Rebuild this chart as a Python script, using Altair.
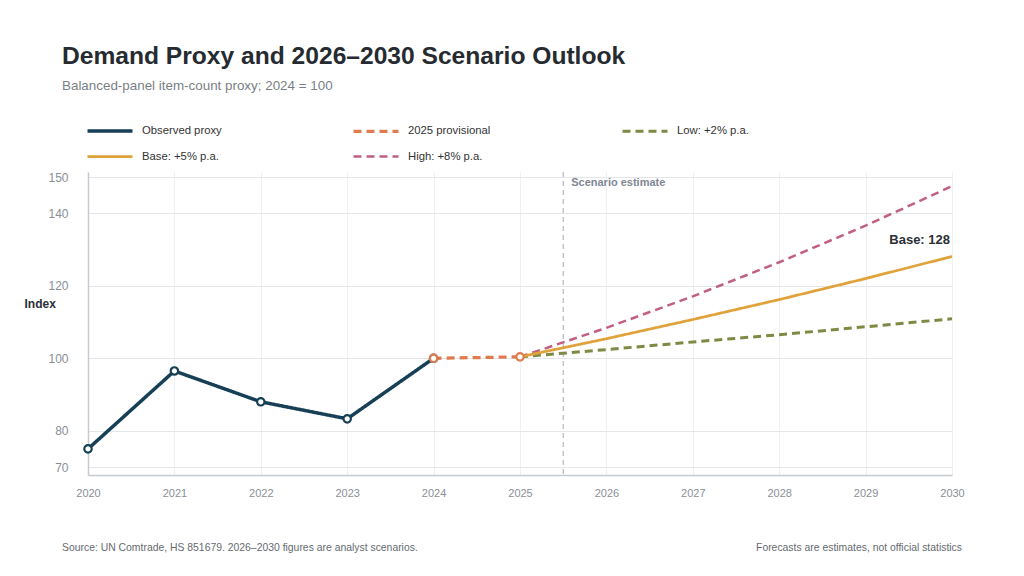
import altair as alt
import pandas as pd

# Index values, 2024 = 100
YEARS_OBS = [2020, 2021, 2022, 2023, 2024]
OBSERVED = [75.0, 96.5, 88.0, 83.3, 100.0]

YEARS_PROV = [2024, 2025]
PROVISIONAL = [100.0, 100.4]

YEARS_SCEN = [2025, 2026, 2027, 2028, 2029, 2030]
LOW = [100.4, 102.4, 104.5, 106.5, 108.7, 110.9]
BASE = [100.4, 105.4, 110.7, 116.2, 122.0, 128.1]
HIGH = [100.4, 108.4, 117.1, 126.5, 136.6, 147.5]

SERIES = ["Observed proxy", "2025 provisional", "Low: +2% p.a.", "Base: +5% p.a.", "High: +8% p.a."]
COLORS = ["#173f56", "#e07b4f", "#7d8a44", "#e0a23a", "#c0607e"]
DASHES = [[1, 0], [8, 5], [8, 5], [1, 0], [8, 5]]
WIDTHS = [3.5, 2.5, 2.5, 4, 2.5]

Y_TICKS = [70, 80, 100, 120, 140, 150]
SCENARIO_START = 2025.5

TITLE = "Demand Proxy and 2026–2030 Scenario Outlook"
SUBTITLE = "Balanced-panel item-count proxy; 2024 = 100"
SOURCE = "Source: UN Comtrade, HS 851679. 2026–2030 figures are analyst scenarios."
NOTE = "Forecasts are estimates, not official statistics"

FONT = "Liberation Sans"
W, H = 864, 303


def frame(name, years, values):
    return pd.DataFrame({"series": name, "year": years, "value": values})


# draw order: dashed scenarios first, solid lines on top
lines = pd.concat([
    frame(SERIES[2], YEARS_SCEN, LOW),
    frame(SERIES[4], YEARS_SCEN, HIGH),
    frame(SERIES[1], YEARS_PROV, PROVISIONAL),
    frame(SERIES[3], YEARS_SCEN, BASE),
    frame(SERIES[0], YEARS_OBS, OBSERVED),
], ignore_index=True)

obs_pts = frame(SERIES[0], YEARS_OBS, OBSERVED)
prov_pts = frame(SERIES[1], YEARS_PROV, PROVISIONAL)
base_end = pd.DataFrame({"year": [YEARS_SCEN[-1]], "value": [BASE[-1]],
                         "label": [f"Base: {round(BASE[-1])}"]})
marker = pd.DataFrame({"year": [SCENARIO_START], "label": ["Scenario estimate"]})

x_scale = alt.Scale(domain=[2020, 2030], nice=False, zero=False)
y_scale = alt.Scale(domain=[67.8, 151.4], nice=False, zero=False)

x_enc = alt.X("year:Q", scale=x_scale, axis=alt.Axis(
    values=list(range(2020, 2031)), format="d", title=None, ticks=False,
    labelPadding=12, labelFontSize=11, labelColor="#8a8f95", labelFont=FONT,
    domainColor="#c5cad0", domainWidth=1.5, gridColor="#eef1f3", labelFlush=False))
y_enc = alt.Y("value:Q", scale=y_scale, axis=alt.Axis(
    values=Y_TICKS, title="Index", titleAngle=0, titleAlign="left",
    titleBaseline="middle", titleX=-64, titleY=131, titleFontSize=12,
    titleFontWeight="bold", titleColor="#2b2f36", titleFont=FONT,
    ticks=False, labelPadding=20, labelFontSize=12, labelColor="#8a8f95",
    labelFont=FONT, domainColor="#c5cad0", domainWidth=1.5, gridColor="#e3e7ea"))

# legend key: a 45px horizontal stroke drawn from a short custom path
legend = alt.Legend(
    orient="none", legendX=10, legendY=-53, direction="horizontal",
    columns=3, title=None, symbolType="M-2.25,0H2.25", symbolSize=400,
    symbolStrokeWidth=3, symbolDash=[7, 5], symbolFillColor="transparent",
    labelFontSize=11.3, labelColor="#333333", labelFont=FONT,
    columnPadding=125, rowPadding=7, labelOffset=20)

line_layer = alt.Chart(lines).mark_line().encode(
    x=x_enc,
    y=y_enc,
    color=alt.Color("series:N", scale=alt.Scale(domain=SERIES, range=COLORS), legend=legend),
    strokeDash=alt.StrokeDash("series:N", scale=alt.Scale(domain=SERIES, range=DASHES)),
    strokeWidth=alt.StrokeWidth("series:N", scale=alt.Scale(domain=SERIES, range=WIDTHS),
                                legend=None),
    detail="series:N",
)

obs_layer = alt.Chart(obs_pts).mark_point(
    filled=True, fill="white", stroke=COLORS[0], strokeWidth=2.2, size=55, opacity=1
).encode(x="year:Q", y="value:Q")

prov_layer = alt.Chart(prov_pts).mark_point(
    filled=True, fill="white", stroke=COLORS[1], strokeWidth=2.2, size=55, opacity=1
).encode(x="year:Q", y="value:Q")

rule_layer = alt.Chart(marker).mark_rule(
    color="#a3a8ad", strokeWidth=1, strokeDash=[5, 4]
).encode(x="year:Q")

rule_text = alt.Chart(marker).mark_text(
    align="left", baseline="middle", dx=8, font=FONT, fontSize=11,
    fontWeight="bold", color="#7f8794"
).encode(x="year:Q", y=alt.value(11), text="label:N")

base_text = alt.Chart(base_end).mark_text(
    align="right", baseline="middle", dy=-16, dx=-2, font=FONT, fontSize=13,
    fontWeight="bold", color="#2b2f36"
).encode(x="year:Q", y="value:Q", text="label:N")

one = pd.DataFrame({"t": [TITLE], "s": [SUBTITLE], "src": [SOURCE], "note": [NOTE]})
title_text = alt.Chart(one).mark_text(
    align="left", baseline="alphabetic", font=FONT, fontSize=24.6,
    fontWeight="bold", color="#262b31"
).encode(x=alt.value(-26), y=alt.value(-108), text="t:N")
subtitle_text = alt.Chart(one).mark_text(
    align="left", baseline="alphabetic", font=FONT, fontSize=13.4, color="#7a7f85"
).encode(x=alt.value(-26), y=alt.value(-82), text="s:N")
source_text = alt.Chart(one).mark_text(
    align="left", baseline="alphabetic", font=FONT, fontSize=10.4, color="#666a70"
).encode(x=alt.value(-26), y=alt.value(379), text="src:N")
note_text = alt.Chart(one).mark_text(
    align="right", baseline="alphabetic", font=FONT, fontSize=10.4, color="#666a70"
).encode(x=alt.value(W + 10), y=alt.value(379), text="note:N")

chart = alt.layer(
    rule_layer, line_layer, obs_layer, prov_layer, rule_text, base_text,
    title_text, subtitle_text, source_text, note_text,
).properties(
    width=W, height=H,
    autosize=alt.AutoSizeParams(type="none"),
    padding={"left": 88, "top": 172, "right": 72, "bottom": 101},
    background="white",
).configure_view(stroke=None).configure_axis(gridWidth=1)

chart.save("out.html", embed_options={"renderer": "svg", "actions": False})
